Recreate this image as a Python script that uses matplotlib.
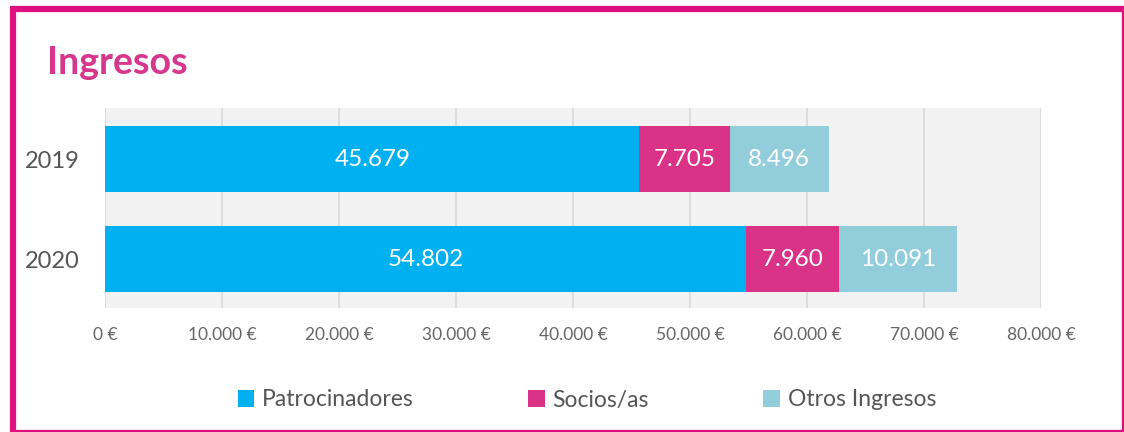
import matplotlib
matplotlib.use("Agg")
import matplotlib.pyplot as plt
from matplotlib.patches import Rectangle, Patch
from matplotlib.ticker import FuncFormatter

plt.rcParams['font.family'] = ['Lato', 'DejaVu Sans']

years = ['2019', '2020']
series = ['Patrocinadores', 'Socios/as', 'Otros Ingresos']
patrocinadores = [45679, 54802]
socios = [7705, 7960]
otros = [8496, 10091]
colors = ['#00b0f0', '#d93287', '#92cddc']


def fmt_es(v):
    return f"{int(round(v)):,}".replace(",", ".")


fig = plt.figure(figsize=(11.24, 4.32), dpi=100)
ax = fig.add_axes([105 / 1124, 1 - 308 / 432, 936 / 1124, 200 / 432])
ax.set_facecolor('#f2f2f2')

lefts = [0, 0]
for vals, col in zip([patrocinadores, socios, otros], colors):
    bars = ax.barh(range(len(years)), vals, left=lefts, height=0.66,
                   color=col, zorder=3)
    for b, v in zip(bars, vals):
        ax.text(b.get_x() + b.get_width() / 2, b.get_y() + b.get_height() / 2,
                fmt_es(v), ha='center', va='center', color='white',
                fontsize=17.5, zorder=4)
    lefts = [l + v for l, v in zip(lefts, vals)]

ax.set_xlim(0, 80000)
ax.set_ylim(1.49, -0.515)
ax.set_xticks(range(0, 80001, 10000))
ax.xaxis.set_major_formatter(FuncFormatter(lambda v, p: fmt_es(v) + " €"))
ax.set_yticks(range(len(years)))
ax.set_yticklabels(years)
ax.grid(axis='x', color='#d9d9d9', linewidth=1.2, zorder=1)
ax.tick_params(axis='x', length=0, pad=14, labelsize=12.5, labelcolor='#666666')
ax.tick_params(axis='y', length=0, pad=18, labelsize=17, labelcolor='#555555')
for s in ax.spines.values():
    s.set_visible(False)

fig.text(47 / 1124, 1 - 63 / 432, 'Ingresos', fontsize=27, fontweight='bold',
         color='#d6368b', ha='left', va='center')

handles = [Patch(facecolor=c, edgecolor='none') for c in colors]
fig.legend(handles, series, loc='center', ncol=3,
           bbox_to_anchor=(587 / 1124, 1 - 400 / 432), frameon=False,
           fontsize=16.5, labelcolor='#555555', handlelength=0.7,
           handleheight=0.7, handletextpad=0.35, columnspacing=5.0)

fig.patches.append(Rectangle((12.5 / 1124, 1 - 433 / 432), 1112 / 1124, 424 / 432,
                             transform=fig.transFigure, fill=False,
                             edgecolor='#dc117f', linewidth=4.5))

fig.savefig('out.png', dpi=100)
